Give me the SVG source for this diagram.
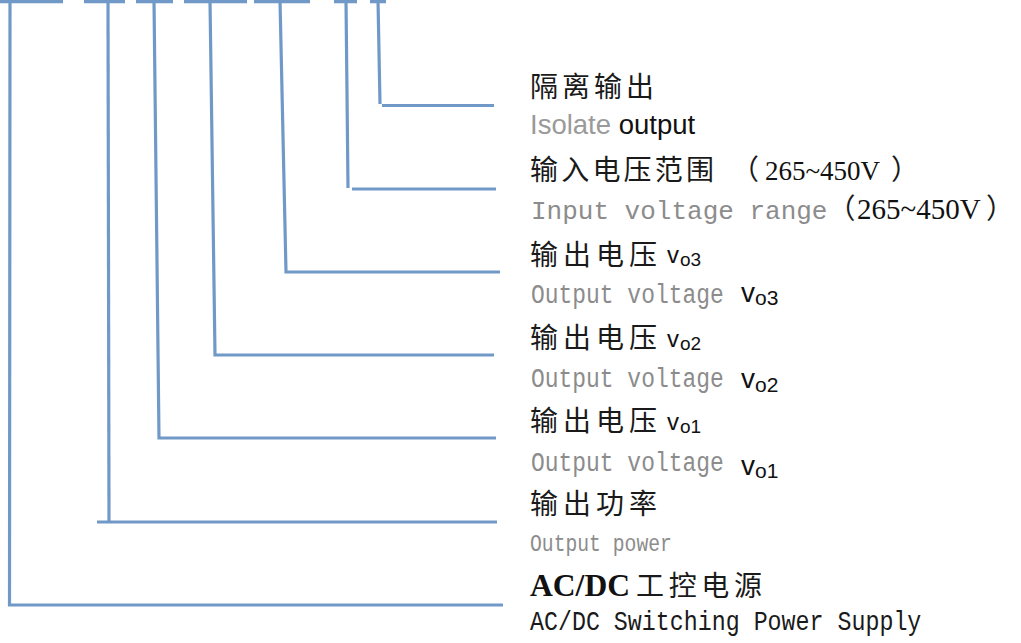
<svg xmlns="http://www.w3.org/2000/svg" width="1021" height="643" viewBox="0 0 1021 643">
<style>
.ln{fill:none;stroke:#7199c7;stroke-width:3.2;stroke-linecap:butt;stroke-linejoin:miter}
.cn{font-family:"Noto Sans CJK SC","Noto Sans",sans-serif;font-size:28px;fill:#1a1a1a}
.mono{font-family:"Liberation Mono","DejaVu Sans Mono",monospace;fill:#8c8c8c}
.monob{font-family:"Liberation Mono","DejaVu Sans Mono",monospace;fill:#1a1a1a}
.sans{font-family:"Liberation Sans",Arial,sans-serif;fill:#111}
.serif{font-family:"Liberation Serif","Times New Roman",serif;fill:#111}
.gray{fill:#9a9a9a}
</style>
<rect width="1021" height="643" fill="#ffffff"/>
<g id="connectors">
<path class="ln" d="M0 1.6H63M84 1.6H125M136 1.6H173M184 1.6H247M254 1.6H310M334 1.6H357M370 1.6H386"/>
<path class="ln" d="M10 0L9.5 605H503"/>
<path class="ln" d="M108 0L109 522"/>
<path class="ln" d="M97 522H497"/>
<path class="ln" d="M154 0L159 438H496"/>
<path class="ln" d="M210 0L215 355H494"/>
<path class="ln" d="M280 0L286 272H500"/>
<path class="ln" d="M346 0L348 188"/>
<path class="ln" d="M352 189H496"/>
<path class="ln" d="M378 0L380 104"/>
<path class="ln" d="M382 105.5H494"/>
</g>
<g id="node-isolate">
<text class="cn" x="530" y="97" textLength="124">隔离输出</text>
<text class="sans" x="530" y="134" font-size="27.5"><tspan class="gray">Isolate</tspan> output</text>
</g>
<g id="node-input">
<text class="cn" x="530" y="180" textLength="184">输入电压范围</text>
<text class="cn" x="731" y="180">（<tspan class="serif" x="765" font-size="27">265~450V</tspan><tspan x="891">）</tspan></text>
<text class="mono" x="531" y="219" font-size="26">Input voltage range<tspan class="cn" font-size="28">（</tspan><tspan class="serif" x="857" font-size="29">265~450V</tspan><tspan class="cn" x="986">）</tspan></text>
</g>
<g id="node-vo3">
<text class="cn" x="530" y="265" textLength="127">输出电压</text>
<text class="sans" x="667" y="263" font-size="24">v<tspan font-size="19" dx="1" dy="3">o3</tspan></text>
<text class="mono" transform="translate(531 303) scale(0.85 1)" font-size="27">Output voltage</text>
<text class="sans" x="741" y="302" font-size="28">v<tspan font-size="21" dy="3">o3</tspan></text>
</g>
<g id="node-vo2">
<text class="cn" x="530" y="348" textLength="127">输出电压</text>
<text class="sans" x="667" y="347" font-size="24">v<tspan font-size="19" dx="1" dy="3">o2</tspan></text>
<text class="mono" transform="translate(531 387) scale(0.85 1)" font-size="27">Output voltage</text>
<text class="sans" x="741" y="388" font-size="28">v<tspan font-size="21" dy="4">o2</tspan></text>
</g>
<g id="node-vo1">
<text class="cn" x="530" y="431" textLength="127">输出电压</text>
<text class="sans" x="667" y="430" font-size="24">v<tspan font-size="19" dx="1" dy="3">o1</tspan></text>
<text class="mono" transform="translate(531 471) scale(0.85 1)" font-size="27">Output voltage</text>
<text class="sans" x="741" y="475" font-size="28">v<tspan font-size="21" dy="3">o1</tspan></text>
</g>
<g id="node-power">
<text class="cn" x="530" y="514" textLength="127">输出功率</text>
<text class="mono" transform="translate(530 551) scale(0.857 1)" font-size="23">Output power</text>
</g>
<g id="node-acdc">
<text class="serif" x="530" y="596" font-size="31" font-weight="bold" textLength="100" lengthAdjust="spacingAndGlyphs">AC/DC</text>
<text class="cn" x="636" y="596" textLength="126">工控电源</text>
<text class="monob" transform="translate(530 630) scale(0.832 1)" font-size="28">AC/DC Switching Power Supply</text>
</g>
</svg>
